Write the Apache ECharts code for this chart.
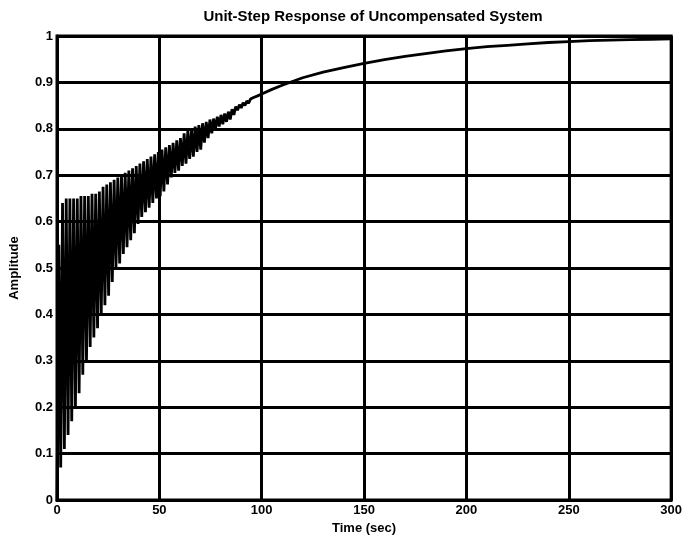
<!DOCTYPE html>
<html>
<head>
<meta charset="utf-8">
<script src="https://cdn.jsdelivr.net/npm/echarts@6/dist/echarts.min.js"></script>
<style>
  html, body { margin: 0; padding: 0; background: #fff; }
  #chart { width: 685px; height: 544px; }
</style>
</head>
<body>
<div id="chart"></div>
<script>
// oscillating start: one trough and one peak every 1.8 s
var halfPeriod = 0.9
var troughVals = [0.0, 0.07, 0.11, 0.14, 0.17, 0.2, 0.23, 0.27, 0.3, 0.33,
  0.35, 0.37, 0.4, 0.42, 0.44, 0.47, 0.5, 0.51, 0.53, 0.545,
  0.56, 0.575, 0.595, 0.61, 0.62, 0.63, 0.64, 0.65, 0.655, 0.665,
  0.68, 0.695, 0.705, 0.71, 0.72, 0.725, 0.735, 0.74, 0.75, 0.755,
  0.77, 0.78, 0.79, 0.8, 0.805, 0.81, 0.815, 0.82, 0.83, 0.84,
  0.845, 0.85, 0.855, 0.862]
var peakVals = [0.55, 0.64, 0.65, 0.65, 0.65, 0.65, 0.655, 0.655, 0.655, 0.66,
  0.66, 0.665, 0.675, 0.68, 0.685, 0.69, 0.695, 0.7, 0.705, 0.71,
  0.715, 0.72, 0.725, 0.73, 0.735, 0.74, 0.745, 0.75, 0.755, 0.76,
  0.765, 0.77, 0.775, 0.78, 0.79, 0.795, 0.8, 0.805, 0.808, 0.812,
  0.815, 0.82, 0.822, 0.826, 0.83, 0.833, 0.837, 0.842, 0.848, 0.852,
  0.856, 0.86, 0.864, 0.868]

// settled part of the response
var tailTimes = [98, 100, 105, 110, 115, 120, 130, 140, 150, 160, 170, 180,
  190, 200, 210, 220, 230, 240, 250, 260, 270, 280, 290, 300]
var tailVals = [0.871, 0.875, 0.885, 0.894, 0.902, 0.91, 0.922, 0.932, 0.941, 0.949, 0.956, 0.962,
  0.968, 0.973, 0.977, 0.98, 0.983, 0.986, 0.988, 0.99, 0.991, 0.992, 0.993, 0.994]

var xTickLabels = ['0', '50', '100', '150', '200', '250', '300']
var yTickLabels = ['0', '0.1', '0.2', '0.3', '0.4', '0.5', '0.6', '0.7', '0.8', '0.9', '1']

var points = []
for (var i = 0; i < troughVals.length; i++) {
  points.push([2 * i * halfPeriod, troughVals[i]])
  points.push([(2 * i + 1) * halfPeriod, peakVals[i]])
}
for (var j = 0; j < tailTimes.length; j++) {
  points.push([tailTimes[j], tailVals[j]])
}

var labelFont = {
  color: '#000',
  fontFamily: 'Liberation Sans',
  fontWeight: 'bold',
  fontSize: 13
}

var chart = echarts.init(document.getElementById('chart'))
chart.setOption({
  backgroundColor: '#fff',
  animation: false,
  title: {
    text: 'Unit-Step Response of Uncompensated System',
    left: 368,
    top: 4,
    textAlign: 'center',
    textStyle: { color: '#000', fontFamily: 'Liberation Sans', fontWeight: 'bold', fontSize: 15 }
  },
  grid: {
    left: 57,
    right: 10,
    top: 36,
    bottom: 44,
    show: true,
    borderColor: '#000',
    borderWidth: 3
  },
  xAxis: {
    type: 'value',
    min: 0,
    max: 300,
    interval: 50,
    name: 'Time (sec)',
    nameLocation: 'middle',
    nameGap: 19,
    nameTextStyle: labelFont,
    axisLine: { show: true, lineStyle: { color: '#000', width: 3 } },
    axisTick: { show: false },
    axisLabel: Object.assign({
      margin: 4,
      formatter: function (v, idx) { return xTickLabels[idx] }
    }, labelFont),
    splitLine: { show: true, lineStyle: { color: '#000', width: 3 } }
  },
  yAxis: {
    type: 'value',
    min: 0,
    max: 1,
    interval: 0.1,
    name: 'Amplitude',
    nameLocation: 'middle',
    nameGap: 36,
    nameTextStyle: labelFont,
    axisLine: { show: true, lineStyle: { color: '#000', width: 3 } },
    axisTick: { show: false },
    axisLabel: Object.assign({
      margin: 4,
      formatter: function (v, idx) { return yTickLabels[idx] }
    }, labelFont),
    splitLine: { show: true, lineStyle: { color: '#000', width: 3 } }
  },
  series: [
    {
      type: 'line',
      data: points,
      showSymbol: false,
      lineStyle: { color: '#000', width: 2.8 },
      z: 3
    }
  ]
})
</script>
</body>
</html>
